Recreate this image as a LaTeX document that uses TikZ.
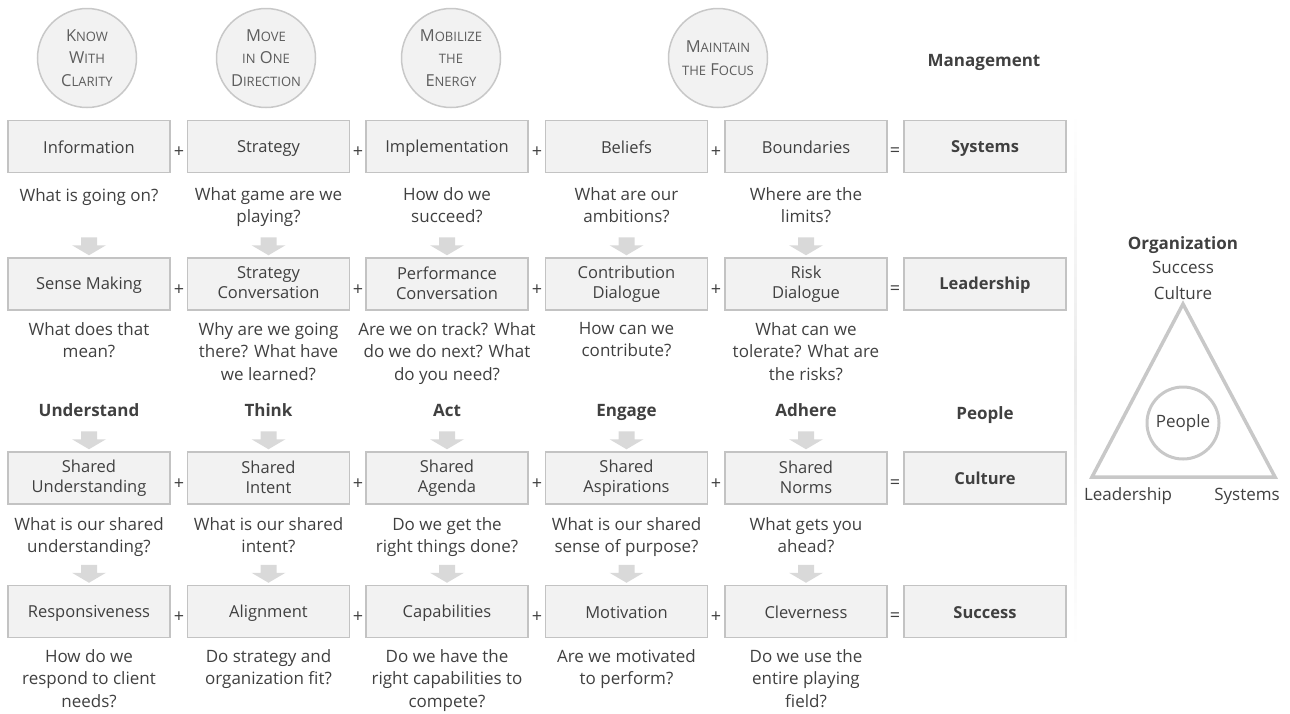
\documentclass[tikz,border=0pt]{standalone}
\usepackage{fontspec}
\setmainfont{Open Sans}
\usetikzlibrary{calc}
\definecolor{txt}{HTML}{404040}
\definecolor{boxfill}{HTML}{F2F2F2}
\definecolor{boxline}{HTML}{C3C3C3}
\definecolor{arw}{HTML}{D9D9D9}
\definecolor{ring}{HTML}{C8C8C8}
% small-caps word: initial capital + smaller capitals
\newcommand\capsc[2]{#1{\fontsize{13}{13}\selectfont #2}}
\newcommand\lowsc[1]{{\fontsize{13}{13}\selectfont #1}}
% grey block arrow pointing down onto a box
\newcommand\dropto[1]{\fill[arw] (#1.north) ++(0,-2) -- ++(-17,-10) -- ++(9,0) -- ++(0,-8) -- ++(16,0) -- ++(0,8) -- ++(9,0) -- cycle;}
\begin{document}
\begin{tikzpicture}[x=1pt,y=-1pt,
  font=\fontsize{17}{22.5}\selectfont, text=txt,
  stepbox/.style={draw=boxline, fill=boxfill, line width=1.5pt, minimum width=162pt,
    minimum height=52pt, inner sep=0pt, align=center,
    font=\fontsize{16.5}{20}\selectfont,
    execute at begin node={\rule{0pt}{15pt}}, execute at end node={\rule[-2pt]{0pt}{2pt}}},
  sumbox/.style={stepbox, font=\fontsize{16.5}{20}\selectfont\bfseries},
  ques/.style={align=center, anchor=north, inner sep=0pt, execute at begin node={\rule{0pt}{14pt}}},
  head/.style={font=\fontsize{17}{22}\selectfont\bfseries, anchor=base, inner sep=0pt},
  lbl/.style={anchor=base, inner sep=0pt},
  op/.style={font=\fontsize{18}{18}\selectfont, inner sep=0pt},
  goal/.style={circle, draw=ring, fill=boxfill, line width=1.5pt, minimum size=99pt,
    inner sep=0pt, align=center, text=txt!85, font=\fontsize{16.5}{22.5}\selectfont},
]
\useasboundingbox (0,0) rectangle (1290,713);

% separator between the grid and the triangle
\shade[top color=white, bottom color=white, middle color=black!8] (1074,112) rectangle (1076.5,648);

% the four aims
\node[goal] (g1) at (87,58)  {\capsc{K}{NOW}\\\capsc{W}{ITH}\\\capsc{C}{LARITY}};
\node[goal] (g2) at (266,58) {\capsc{M}{OVE}\\\lowsc{IN} \capsc{O}{NE}\\\capsc{D}{IRECTION}};
\node[goal] (g3) at (451,58) {\capsc{M}{OBILIZE}\\\lowsc{THE}\\\capsc{E}{NERGY}};
\node[goal] (g4) at (718,58) {\capsc{M}{AINTAIN}\\\lowsc{THE} \capsc{F}{OCUS}};
\node[head] (mgmt) at (984,66) {Management};

% row 1: management systems
\node[stepbox] (b11) at (89,146.5)  {Information};
\node[stepbox] (b12) at (268.5,146.5) {Strategy};
\node[stepbox] (b13) at (447,146.5) {Implementation};
\node[stepbox] (b14) at (626.5,146.5) {Beliefs};
\node[stepbox] (b15) at (806,146.5) {Boundaries};
\node[sumbox]  (b16) at (985,146.5) {Systems};
\node[op] (p11) at (179,152) {+};
\node[op] (p12) at (358,152) {+};
\node[op] (p13) at (537,152) {+};
\node[op] (p14) at (716,152) {+};
\node[op] (e1)  at (895,152) {=};
\node[ques] (q11) at (89,187)  {What is going on?};
\node[ques] (q12) at (268.5,187) {What game are we\\playing?};
\node[ques] (q13) at (447,187) {How do we\\succeed?};
\node[ques] (q14) at (626.5,187) {What are our\\ambitions?};
\node[ques] (q15) at (806,187) {Where are the\\limits?};

% row 2: leadership
\node[stepbox] (b21) at (89,284)  {Sense Making};
\node[stepbox] (b22) at (268.5,284) {Strategy\\Conversation};
\node[stepbox] (b23) at (447,284) {Performance\\Conversation};
\node[stepbox] (b24) at (626.5,284) {Contribution\\Dialogue};
\node[stepbox] (b25) at (806,284) {Risk\\Dialogue};
\node[sumbox]  (b26) at (985,284) {Leadership};
\node[op] (p21) at (179,290) {+};
\node[op] (p22) at (358,290) {+};
\node[op] (p23) at (537,290) {+};
\node[op] (p24) at (716,290) {+};
\node[op] (e2)  at (895,290) {=};
\node[ques] (q21) at (89,322)  {What does that\\mean?};
\node[ques] (q22) at (268.5,322) {Why are we going\\there? What have\\we learned?};
\node[ques] (q23) at (447,322) {Are we on track? What\\do we do next? What\\do you need?};
\node[ques] (q24) at (626.5,322) {How can we\\contribute?};
\node[ques] (q25) at (806,322) {What can we\\tolerate? What are\\the risks?};

% people
\node[head] (h1) at (89,416)  {Understand};
\node[head] (h2) at (268.5,416) {Think};
\node[head] (h3) at (447,416) {Act};
\node[head] (h4) at (626.5,416) {Engage};
\node[head] (h5) at (806,416) {Adhere};
\node[head] (h6) at (985,419) {People};

% row 3: culture
\node[stepbox] (b31) at (89,478)  {Shared\\Understanding};
\node[stepbox] (b32) at (268.5,478) {Shared\\Intent};
\node[stepbox] (b33) at (447,478) {Shared\\Agenda};
\node[stepbox] (b34) at (626.5,478) {Shared\\Aspirations};
\node[stepbox] (b35) at (806,478) {Shared\\Norms};
\node[sumbox]  (b36) at (985,478) {Culture};
\node[op] (p31) at (179,484) {+};
\node[op] (p32) at (358,484) {+};
\node[op] (p33) at (537,484) {+};
\node[op] (p34) at (716,484) {+};
\node[op] (e3)  at (895,484) {=};
\node[ques] (q31) at (89,517)  {What is our shared\\understanding?};
\node[ques] (q32) at (268.5,517) {What is our shared\\intent?};
\node[ques] (q33) at (447,517) {Do we get the\\right things done?};
\node[ques] (q34) at (626.5,517) {What is our shared\\sense of purpose?};
\node[ques] (q35) at (806,517) {What gets you\\ahead?};

% row 4: success
\node[stepbox] (b41) at (89,611.5)  {Responsiveness};
\node[stepbox] (b42) at (268.5,611.5) {Alignment};
\node[stepbox] (b43) at (447,611.5) {Capabilities};
\node[stepbox] (b44) at (626.5,611.5) {Motivation};
\node[stepbox] (b45) at (806,611.5) {Cleverness};
\node[sumbox]  (b46) at (985,611.5) {Success};
\node[op] (p41) at (179,617) {+};
\node[op] (p42) at (358,617) {+};
\node[op] (p43) at (537,617) {+};
\node[op] (p44) at (716,617) {+};
\node[op] (e4)  at (895,617) {=};
\node[ques] (q41) at (89,649)  {How do we\\respond to client\\needs?};
\node[ques] (q42) at (268.5,649) {Do strategy and\\organization fit?};
\node[ques] (q43) at (447,649) {Do we have the\\right capabilities to\\compete?};
\node[ques] (q44) at (626.5,649) {Are we motivated\\to perform?};
\node[ques] (q45) at (806,649) {Do we use the\\entire playing\\field?};

% block arrows between the rows
\foreach \r in {2,3,4}{
  \foreach \c in {1,...,5}{
    \dropto{b\r\c}
  }
}

% organization triangle
\coordinate (ta) at (1183,304);
\coordinate (tl) at (1092,477);
\coordinate (tr) at (1275,477);
\draw[ring, line width=3.5pt, line join=miter] (ta) -- (tl) -- (tr) -- cycle;
\node[circle, draw=ring, line width=3pt, minimum size=72pt, inner sep=0pt] (ppl) at (1183,423) {People};
\node[head] (org) at (1183,249) {Organization};
\node[lbl] (osu) at (1183,273) {Success};
\node[lbl] (ocu) at (1183,299) {Culture};
\node[lbl] (tld) at (1128,500) {Leadership};
\node[lbl] (tsy) at (1247,500) {Systems};
\end{tikzpicture}
\end{document}
